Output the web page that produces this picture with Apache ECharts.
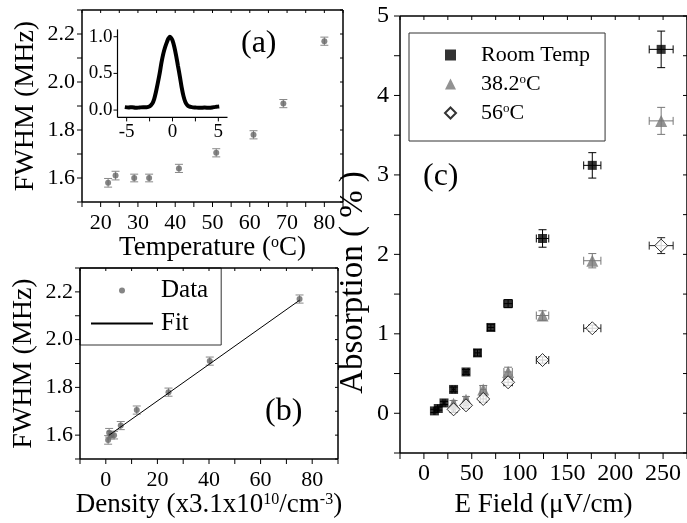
<!DOCTYPE html>
<html><head><meta charset="utf-8">
<script src="https://cdn.jsdelivr.net/npm/echarts@6/dist/echarts.min.js"></script>
<style>html,body{margin:0;padding:0;background:#fff}#c{width:687px;height:523px}</style>
</head><body><div id="c"></div>
<script>
// ---------- Panel (a): FWHM vs temperature ----------
const tempC   = [22, 24, 29, 33, 41, 51, 61, 69, 80];
const fwhmMHz = [1.58, 1.61, 1.60, 1.60, 1.64, 1.705, 1.78, 1.91, 2.17];
const fwhmErr = [0.018, 0.018, 0.016, 0.016, 0.017, 0.017, 0.017, 0.017, 0.017];
// inset: normalised line shape
const insetX = [-5.2,-4.8,-4.4,-4.0,-3.6,-3.2,-2.8,-2.5,-2.2,-2.0,-1.8,-1.6,-1.4,-1.2,-1.0,-0.8,-0.6,-0.45,-0.3,-0.15,0.0,0.2,0.4,0.6,0.8,1.0,1.2,1.4,1.6,1.8,2.1,2.5,3.0,3.5,4.0,4.5,4.8,5.1];
const insetY = [0.04,0.035,0.04,0.03,0.035,0.04,0.04,0.05,0.09,0.15,0.25,0.37,0.5,0.65,0.77,0.86,0.93,0.975,1.0,0.985,0.95,0.86,0.74,0.6,0.46,0.31,0.19,0.11,0.07,0.05,0.04,0.035,0.03,0.035,0.03,0.04,0.045,0.05];
// ---------- Panel (b): FWHM vs density ----------
const densityX = [0.9, 1.3, 2.0, 3.2, 5.8, 12.0, 24.3, 40.3, 75.1];
const fitX = [1.3, 75.1];
const fitY = [1.600, 2.165];
// ---------- Panel (c): absorption vs E field ----------
const roomX    = [11, 15, 21, 31, 44, 56, 70, 88, 124, 176, 248];
const roomY    = [0.03, 0.06, 0.13, 0.30, 0.52, 0.76, 1.08, 1.38, 2.20, 3.12, 4.58];
const roomXErr = [0.6, 0.8, 1.1, 1.6, 2.2, 2.8, 3.5, 4.4, 6.5, 9, 12.5];
const roomYErr = [0.02, 0.02, 0.02, 0.03, 0.03, 0.04, 0.04, 0.05, 0.11, 0.16, 0.23];
const t38X     = [31, 44, 62, 88, 124, 176, 248];
const t38Y     = [0.12, 0.17, 0.30, 0.52, 1.23, 1.92, 3.68];
const t38XErr  = [1.6, 2.2, 3.1, 4.4, 6.5, 9, 12.5];
const t38YErr  = [0.04, 0.04, 0.05, 0.06, 0.06, 0.09, 0.17];
const t56X     = [31, 44, 62, 88, 124, 176, 248];
const t56Y     = [0.05, 0.10, 0.18, 0.39, 0.67, 1.07, 2.11];
const t56XErr  = [1.6, 2.2, 3.1, 4.4, 6.5, 9, 12.5];
const t56YErr  = [0.04, 0.04, 0.04, 0.04, 0.04, 0.04, 0.10];
// ---------- tick values / labels ----------
const aXTicks = [15,20,25,30,35,40,45,50,55,60,65,70,75,80,85];
const aXLabels = [20,30,40,50,60,70,80];
const abYTicks = [1.5,1.6,1.7,1.8,1.9,2.0,2.1,2.2,2.3];
const abYLabels = [1.6,1.8,2.0,2.2];
const insetXTicks = [-5,-2.5,0,2.5,5];
const insetXLabels = [-5,0,5];
const insetYTicks = [0,0.5,1.0];
const insetYLabels = [0,0.5,1.0];
const bXTicks = [-10,0,10,20,30,40,50,60,70,80,90];
const bXLabels = [0,20,40,60,80];
const cXTicks = [-25,0,25,50,75,100,125,150,175,200,225,250,275];
const cXLabels = [0,50,100,150,200,250];
const cYTicks = [-0.5,0,0.5,1,1.5,2,2.5,3,3.5,4,4.5,5];
const cYLabels = [0,1,2,3,4,5];

const FONT = "'Liberation Serif','Times New Roman',serif";
const zip = (...a) => a[0].map((_, i) => a.map(x => x[i]));

function axis(grid, pos, min, max, labels, o) {
  o = o || {};
  const side = (pos === 'top' || pos === 'right');
  return {
    type: 'value', gridIndex: grid, position: pos, min: min, max: max,
    axisLine: {show: false, onZero: false},
    axisTick: {show: false},
    axisLabel: side ? {show: false} : {show: true, customValues: labels, formatter: o.fmt, fontSize: o.fs || 22,
      fontFamily: FONT, color: '#000', margin: o.margin || 8},
    splitLine: {show: false},
    name: o.name || '', nameLocation: 'middle', nameGap: o.nameGap || 30,
    nameTextStyle: Object.assign({fontSize: o.nfs || 27, fontFamily: FONT, color: '#000',
      rich: {s: {fontSize: Math.round((o.nfs || 27) * 0.6), fontFamily: FONT, color: '#000', verticalAlign: 'top'}}}, o.nts || {})
  };
}
const f1 = v => v.toFixed(1);
const f0 = v => String(v);

// axis frame + ticks, placed through the cartesian scales (api.coord)
function frameItem(xr, yr, xTicks, yTicks, opt) {
  return function (params, api) {
    const lo = api.coord([xr[0], yr[0]]), hi = api.coord([xr[1], yr[1]]);
    const x0 = lo[0], y1 = lo[1], x1 = hi[0], y0 = hi[1];
    const st = {stroke: '#000', lineWidth: opt.lw}, ts = {stroke: '#000', lineWidth: 1};
    const kids = [];
    const L = (a, b, c, d, s) => kids.push({type: 'line', shape: {x1: a, y1: b, x2: c, y2: d}, style: s});
    L(x0, y1, x1, y1, st);
    L(x0, y0, x0, y1, st);
    if (opt.box) { L(x0, y0, x1, y0, st); L(x1, y0, x1, y1, st); }
    xTicks.forEach(v => {
      const px = api.coord([v, yr[0]])[0];
      L(px, y1, px, y1 + opt.out, ts);
      if (opt.box) L(px, y0, px, y0 + opt.inn, ts);
    });
    yTicks.forEach(v => {
      const py = api.coord([xr[0], v])[1];
      L(x0 - opt.out, py, x0, py, ts);
      if (opt.box) L(x1 - opt.inn, py, x1, py, ts);
    });
    return {type: 'group', children: kids};
  };
}
function frameSeries(ax, xr, yr, xTicks, yTicks, opt) {
  return {type: 'custom', xAxisIndex: ax, yAxisIndex: ax, renderItem: frameItem(xr, yr, xTicks, yTicks, opt),
    encode: {x: 0, y: 1}, data: [[(xr[0] + xr[1]) / 2, (yr[0] + yr[1]) / 2]], clip: false, silent: true, z: 5};
}

function vErr(color) {
  return function (params, api) {
    const x = api.value(0), y = api.value(1), e = api.value(2);
    const p0 = api.coord([x, y - e]), p1 = api.coord([x, y + e]);
    const c = 4, st = {stroke: color, lineWidth: 1};
    return {type: 'group', children: [
      {type: 'line', shape: {x1: p0[0], y1: p0[1], x2: p1[0], y2: p1[1]}, style: st},
      {type: 'line', shape: {x1: p0[0] - c, y1: p0[1], x2: p0[0] + c, y2: p0[1]}, style: st},
      {type: 'line', shape: {x1: p1[0] - c, y1: p1[1], x2: p1[0] + c, y2: p1[1]}, style: st}
    ]};
  };
}
function xyErr(color) {
  return function (params, api) {
    const x = api.value(0), y = api.value(1), ex = api.value(2), ey = api.value(3);
    const b = api.coord([x, y - ey]), t = api.coord([x, y + ey]);
    const l = api.coord([x - ex, y]), r = api.coord([x + ex, y]);
    const c = 4, st = {stroke: color, lineWidth: 1};
    const L = (x1, y1, x2, y2) => ({type: 'line', shape: {x1, y1, x2, y2}, style: st});
    return {type: 'group', children: [
      L(b[0], b[1], t[0], t[1]), L(b[0] - c, b[1], b[0] + c, b[1]), L(t[0] - c, t[1], t[0] + c, t[1]),
      L(l[0], l[1], r[0], r[1]), L(l[0], l[1] - c, l[0], l[1] + c), L(r[0], r[1] - c, r[0], r[1] + c)
    ]};
  };
}

const chart = echarts.init(document.getElementById('c'));
const legendText = {
  'Data': '{p|Data}', 'Fit': '{p|Fit}',
  'Room Temp': '{p|Room Temp}', '38.2°C': '{p|38.2}{s|o}{n|C}', '56°C': '{p|56}{s|o}{n|C}'
};
// axis indices: x/y 0,1 = panel (a); 2 = inset; 3,4 = panel (b); 5,6 = panel (c)
chart.setOption({
  animation: false,
  backgroundColor: '#fff',
  grid: [
    {left: 82, top: 10, width: 261, height: 192},
    {left: 117.5, top: 29.4, width: 110, height: 88},
    {left: 80, top: 268, width: 258, height: 191},
    {left: 400, top: 16, width: 294, height: 437}
  ],
  xAxis: [
    axis(0, 'bottom', 15, 85, aXLabels, {fmt: f0, margin: 10, name: 'Temperature ({s|o}C)', nameGap: 30}),
    axis(0, 'top', 15, 85, []),
    axis(1, 'bottom', -6, 6, insetXLabels, {fmt: f0, fs: 19, margin: 5}),
    axis(2, 'bottom', -10, 90, bXLabels, {fmt: f0, margin: 10, name: 'Density (x3.1x10{s|10}/cm{s|-3})', nameGap: 30}),
    axis(2, 'top', -10, 90, []),
    axis(3, 'bottom', -25, 275, cXLabels, {fmt: f0, fs: 24, margin: 9, name: 'E Field (\u03bcV/cm)', nameGap: 38}),
    axis(3, 'top', -25, 275, [])
  ],
  yAxis: [
    axis(0, 'left', 1.5, 2.3, abYLabels, {fmt: f1, margin: 7, name: 'FWHM (MHz)', nameGap: 42, nfs: 28}),
    axis(0, 'right', 1.5, 2.3, []),
    axis(1, 'left', -0.1, 1.1, insetYLabels, {fmt: f1, fs: 19, margin: 5}),
    axis(2, 'left', 1.5, 2.3, abYLabels, {fmt: f1, margin: 7, name: 'FWHM (MHz)', nameGap: 42, nfs: 28}),
    axis(2, 'right', 1.5, 2.3, []),
    axis(3, 'left', -0.5, 5, cYLabels, {fmt: f0, fs: 24, margin: 11, name: 'Absorption ( % )', nameGap: 30, nfs: 33,
      nts: {padding: [0, 96, 0, 0]}}),
    axis(3, 'right', -0.5, 5, [])
  ],
  legend: [
    {data: ['Data', 'Fit'], orient: 'vertical', left: 80, top: 268, padding: [10, 13, 9, 10], itemGap: 8,
     itemWidth: 62, itemHeight: 6, selectedMode: false, borderColor: '#333', borderWidth: 1, backgroundColor: '#fff',
     formatter: n => legendText[n],
     textStyle: {fontSize: 25, fontFamily: FONT, color: '#000', lineHeight: 25,
       rich: {p: {fontSize: 25, fontFamily: FONT, padding: [0, 0, 0, 3]}}}},
    {data: ['Room Temp', '38.2°C', '56°C'], orient: 'vertical', left: 409, top: 33, padding: [11, 15, 17, 35], itemGap: 7,
     itemWidth: 11, itemHeight: 11, selectedMode: false, borderColor: '#333', borderWidth: 1, backgroundColor: '#fff',
     formatter: n => legendText[n],
     textStyle: {fontSize: 22, fontFamily: FONT, color: '#000', lineHeight: 22,
       rich: {p: {fontSize: 22, fontFamily: FONT, padding: [0, 0, 0, 20]},
              s: {fontSize: 13, fontFamily: FONT, verticalAlign: 'top'},
              n: {fontSize: 22, fontFamily: FONT}}}}
  ],
  graphic: [
    {type: 'text', x: 241, y: 44, style: {text: '(a)', fontSize: 32, fontFamily: FONT, fill: '#000', verticalAlign: 'middle'}},
    {type: 'text', x: 265, y: 412, style: {text: '(b)', fontSize: 32, fontFamily: FONT, fill: '#000', verticalAlign: 'middle'}},
    {type: 'text', x: 423, y: 177, style: {text: '(c)', fontSize: 32, fontFamily: FONT, fill: '#000', verticalAlign: 'middle'}}
  ],
  series: [
    frameSeries(0, [15, 85], [1.5, 2.3], aXTicks, abYTicks, {lw: 1.5, out: 5, inn: 3, box: true}),
    frameSeries(2, [-6, 6], [-0.1, 1.1], insetXTicks, insetYTicks, {lw: 1.2, out: 4, inn: 0, box: false}),
    frameSeries(3, [-10, 90], [1.5, 2.3], bXTicks, abYTicks, {lw: 1.5, out: 5, inn: 3, box: true}),
    frameSeries(5, [-25, 275], [-0.5, 5], cXTicks, cYTicks, {lw: 1.5, out: 6, inn: 4, box: true}),
    {type: 'custom', xAxisIndex: 0, yAxisIndex: 0, renderItem: vErr('#888'), encode: {x: 0, y: 1},
     data: zip(tempC, fwhmMHz, fwhmErr), silent: true},
    {type: 'scatter', name: 'T', xAxisIndex: 0, yAxisIndex: 0, symbol: 'circle', symbolSize: 6,
     itemStyle: {color: '#666'}, data: zip(tempC, fwhmMHz)},
    {type: 'line', xAxisIndex: 2, yAxisIndex: 2, showSymbol: false, smooth: 0.3,
     lineStyle: {color: '#000', width: 4}, data: zip(insetX, insetY)},
    {type: 'custom', xAxisIndex: 3, yAxisIndex: 3, renderItem: vErr('#888'), encode: {x: 0, y: 1},
     data: zip(densityX, fwhmMHz, fwhmErr), silent: true},
    {type: 'scatter', name: 'Data', xAxisIndex: 3, yAxisIndex: 3, symbol: 'circle', symbolSize: 6,
     itemStyle: {color: '#666'}, data: zip(densityX, fwhmMHz)},
    {type: 'line', name: 'Fit', xAxisIndex: 3, yAxisIndex: 3, symbol: 'none',
     lineStyle: {color: '#000', width: 1}, itemStyle: {color: 'rgba(0,0,0,0)', borderWidth: 0}, data: zip(fitX, fitY)},
    {type: 'custom', xAxisIndex: 5, yAxisIndex: 5, renderItem: xyErr('#000'), encode: {x: 0, y: 1},
     data: zip(roomX, roomY, roomXErr, roomYErr), silent: true},
    {type: 'scatter', name: 'Room Temp', xAxisIndex: 5, yAxisIndex: 5, symbol: 'rect', symbolSize: 9,
     itemStyle: {color: '#000'}, data: zip(roomX, roomY)},
    {type: 'custom', xAxisIndex: 5, yAxisIndex: 5, renderItem: xyErr('#777'), encode: {x: 0, y: 1},
     data: zip(t38X, t38Y, t38XErr, t38YErr), silent: true},
    {type: 'scatter', name: '38.2°C', xAxisIndex: 5, yAxisIndex: 5, symbol: 'triangle', symbolSize: 12,
     itemStyle: {color: '#777'}, data: zip(t38X, t38Y)},
    {type: 'custom', xAxisIndex: 5, yAxisIndex: 5, renderItem: xyErr('#222'), encode: {x: 0, y: 1},
     data: zip(t56X, t56Y, t56XErr, t56YErr), silent: true},
    {type: 'scatter', name: '56°C', xAxisIndex: 5, yAxisIndex: 5, symbol: 'diamond', symbolSize: 13,
     itemStyle: {color: '#fff', borderColor: '#000', borderWidth: 1}, data: zip(t56X, t56Y)}
  ]
});
</script></body></html>
